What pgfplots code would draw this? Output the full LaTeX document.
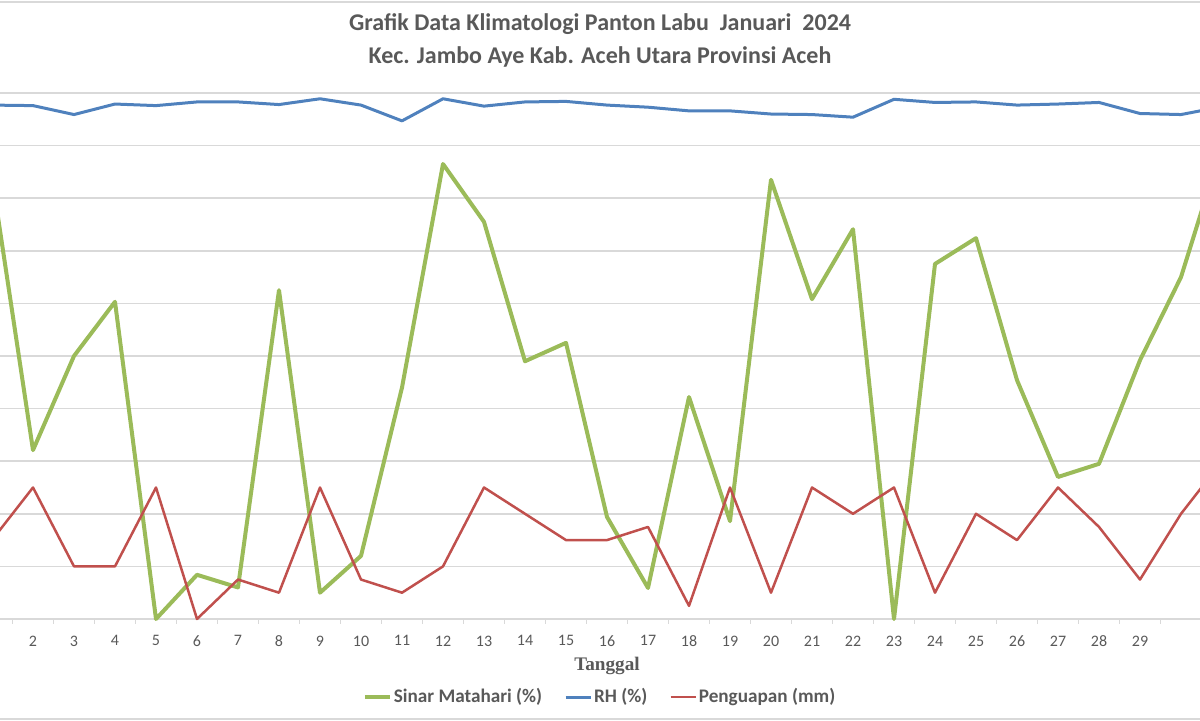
\documentclass[border=0pt]{standalone}
\usepackage{fontspec}
\setmainfont{Carlito}
\newfontfamily\serifb{Liberation Serif}
\usepackage{pgfplots}
\pgfplotsset{compat=1.18}
\definecolor{gridc}{HTML}{D9D9D9}
\definecolor{txt}{HTML}{595959}
\definecolor{cgreen}{HTML}{9BBB59}
\definecolor{cblue}{HTML}{4F81BD}
\definecolor{cred}{HTML}{C0504D}
\begin{document}
\begin{tikzpicture}
\path[use as bounding box] (0,0) rectangle (600pt,360.5pt);
\clip (0,0) rectangle (600pt,360.5pt);
\draw[gridc, line width=0.75pt] (0,359.5pt) -- (600pt,359.5pt);
\draw[gridc, line width=0.75pt] (0,1pt) -- (600pt,1pt);
\node[anchor=base, font=\bfseries\fontsize{12}{14}\selectfont, text=txt, inner sep=0pt] at (300pt,345pt) {Grafik Data Klimatologi Panton Labu\ \ Januari\ \ 2024};
\node[anchor=base, font=\bfseries\fontsize{12}{14}\selectfont, text=txt, inner sep=0pt] at (300pt,328.5pt) {Kec. Jambo Aye Kab. Aceh Utara Provinsi Aceh};
\node[font=\serifb\bfseries\fontsize{9.6}{11}\selectfont, text=txt] at (303.5pt,27.5pt) {Tanggal};
\begin{axis}[
  at={(0pt,51pt)}, anchor=south west, scale only axis,
  width=600pt, height=263pt,
  xmin=1.1951, xmax=30.4634, ymin=0, ymax=100,
  clip=false,
  axis line style={draw=none},
  ytick={0,10,...,100}, yticklabels={},
  ymajorgrids, grid style={gridc, line width=0.75pt},
  xtick={2,3,...,29},
  xticklabels={2,3,4,5,6,7,8,9,10,11,12,13,14,15,16,17,18,19,20,21,22,23,24,25,26,27,28,29},
  major tick length=0pt,
  minor xtick={1.5,2.5,...,29.5},
  minor tick length=2.5pt,
  tick align=outside,
  xtick pos=left, ytick pos=left,
  minor x tick style={gridc, line width=0.75pt},
  xticklabel style={font=\fontsize{8}{9}\selectfont, text=txt, yshift=-4.8pt},
  legend columns=3,
  legend style={at={(0.5,-0.1483)}, anchor=center, draw=none, fill=none,
    font=\bfseries\fontsize{9.6}{12}\selectfont, text=txt,
    /tikz/every even column/.append style={column sep=10pt},
    nodes={inner xsep=1pt}},
  legend image code/.code={\draw[#1] (0pt,0pt) -- (12.5pt,0pt);},
]
\addplot[cgreen, line width=2pt, line join=round] coordinates {
(1,84) (2,32.1) (3,50) (4,60.3) (5,0) (6,8.4) (7,6) (8,62.5) (9,5) (10,12)
(11,44) (12,86.5) (13,75.5) (14,49) (15,52.5) (16,19.4) (17,5.9) (18,42.2) (19,18.6) (20,83.5)
(21,60.8) (22,74.1) (23,0) (24,67.5) (25,72.4) (26,45.4) (27,27) (28,29.5) (29,49.2) (30,65) (31,90)};
\addlegendentry{Sinar Matahari (\%)}
\addplot[cblue, line width=1.5pt, line join=round] coordinates {
(1,97.7) (2,97.6) (3,95.9) (4,97.9) (5,97.6) (6,98.3) (7,98.3) (8,97.8) (9,98.9) (10,97.7)
(11,94.7) (12,98.9) (13,97.5) (14,98.3) (15,98.4) (16,97.7) (17,97.3) (18,96.6) (19,96.6) (20,96.0)
(21,95.9) (22,95.4) (23,98.8) (24,98.2) (25,98.3) (26,97.7) (27,97.9) (28,98.2) (29,96.1) (30,95.9) (31,97.4)};
\addlegendentry{RH (\%)}
\addplot[cred, line width=1.25pt, line join=round] coordinates {
(1,15) (2,25) (3,10) (4,10) (5,25) (6,0) (7,7.5) (8,5) (9,25) (10,7.5)
(11,5) (12,10) (13,25) (14,20) (15,15) (16,15) (17,17.5) (18,2.5) (19,25) (20,5)
(21,25) (22,20) (23,25) (24,5) (25,20) (26,15) (27,25) (28,17.5) (29,7.5) (30,20) (31,30)};
\addlegendentry{Penguapan (mm)}
\end{axis}
\end{tikzpicture}
\end{document}
